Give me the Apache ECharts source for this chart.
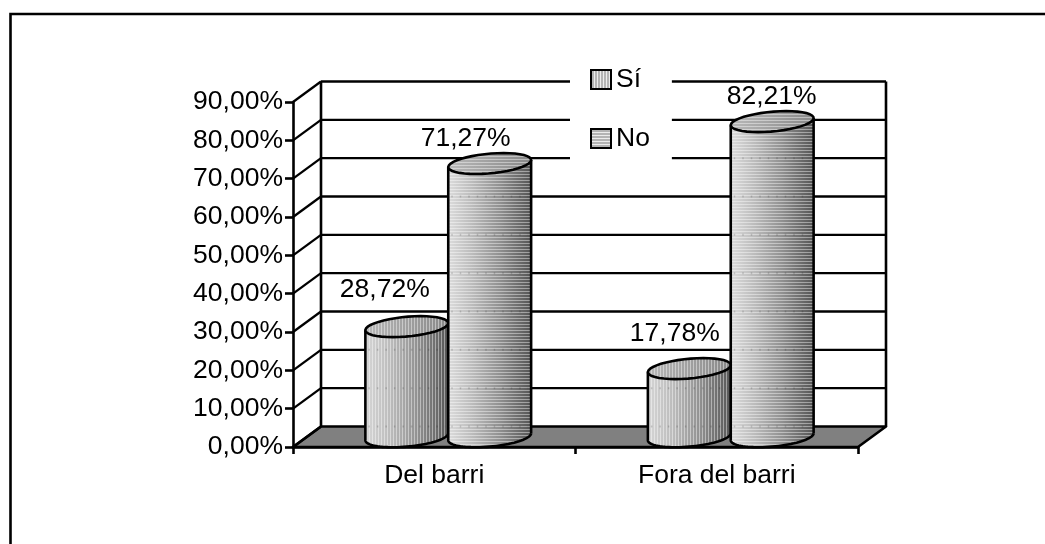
<!DOCTYPE html>
<html><head><meta charset="utf-8">
<style>html,body{margin:0;padding:0;background:#fff}#c{width:1045px;height:544px}</style>
<script src="https://cdn.jsdelivr.net/npm/echarts@6/dist/echarts.min.js"></script>
</head><body><div id="c"></div>
<script>
const categories = ['Del barri', 'Fora del barri'];
const siValues = [28.72, 17.78];
const noValues = [71.27, 82.21];
const yTicks = [0, 10, 20, 30, 40, 50, 60, 70, 80, 90];
const seriesNames = ['Sí', 'No'];
// label nudges relative to each cylinder's top centre (not data)
const siLabelNudge = [[-22, -37], [-14.5, -35]];
const noLabelNudge = [[-24, -25], [-0.5, -24.5]];

const FS = 26.5;
const FAMILY = '"Liberation Sans", Arial, sans-serif';
const FONT = FS + 'px ' + FAMILY;
const DX = 28, DY = -20.5, A = 39, B = 14, C = 10.5, LW = 2.6;

function stripes(vertical, period, alpha) {
  const cv = document.createElement('canvas');
  cv.width = vertical ? period : 1; cv.height = vertical ? 1 : period;
  const g = cv.getContext('2d');
  g.fillStyle = 'rgba(255,255,255,' + alpha + ')';
  g.fillRect(0, 0, 1, 1);
  return { image: cv, repeat: 'repeat' };
}
function swatch(vertical) {
  const cv = document.createElement('canvas');
  cv.width = vertical ? 3 : 1; cv.height = vertical ? 1 : 3;
  const g = cv.getContext('2d');
  g.fillStyle = '#b4b4b4'; g.fillRect(0, 0, 3, 3);
  g.fillStyle = '#ececec'; g.fillRect(0, 0, 1, 1);
  return { image: cv, repeat: 'repeat' };
}
const grad = (stops) => new echarts.graphic.LinearGradient(0, 0, 1, 0,
  stops.map((s) => ({ offset: s[0], color: s[1] })));

const looks = [
  { pat: stripes(true, 3, 0.42), body: grad([[0,'#d6d6d6'],[0.3,'#bcbcbc'],[0.62,'#929292'],[1,'#565656']]),
    top: grad([[0,'#b8b8b8'],[1,'#888888']]) },
  { pat: stripes(false, 3, 0.42), body: grad([[0,'#dcdcdc'],[0.3,'#bababa'],[0.62,'#909090'],[1,'#545454']]),
    top: grad([[0,'#b8b8b8'],[1,'#888888']]) }
];

function ell(cx, cy, t) { return [cx + A * Math.cos(t) + B * Math.sin(t), cy - C * Math.sin(t)]; }
function arc(cx, cy, t0, t1) {
  const pts = [], n = 40;
  for (let i = 0; i <= n; i++) pts.push(ell(cx, cy, t0 + (t1 - t0) * i / n));
  return pts;
}
const T0 = Math.atan2(B, A);
const HALF = Math.hypot(A, B);

function cylinder(which, values, nudges) {
  return function (params, api) {
    const i = api.value(0), v = api.value(1);
    const base = api.coord([i, 0]), head = api.coord([i, v]);
    const cx = base[0] + DX / 2 + (which === 0 ? -HALF : HALF);
    const by = base[1] + DY / 2, ty = head[1] + DY / 2;
    const front = arc(cx, by, T0 + Math.PI, T0 + 2 * Math.PI);
    const backTop = arc(cx, ty, T0 + 2 * Math.PI, T0 + 3 * Math.PI);
    const body = front.concat(backTop);
    const lip = arc(cx, ty, 0, 2 * Math.PI);
    const look = looks[which];
    const kids = [
      { type: 'polygon', shape: { points: body }, style: { fill: look.body, stroke: null } },
      { type: 'polygon', shape: { points: body }, style: { fill: look.pat, stroke: null } }
    ];
    yTicks.forEach((t) => {
      const gy = api.coord([i, t])[1] + DY;
      if (gy > ty + 6 && gy < by + 8) {
        kids.push({ type: 'line', shape: { x1: cx - HALF + 3, y1: gy, x2: cx + HALF - 3, y2: gy },
          style: { stroke: 'rgba(0,0,0,0.16)', lineWidth: 2, lineDash: [1.5, 7] } });
      }
    });
    kids.push({ type: 'polyline', shape: { points: [front[front.length - 1], backTop[0]] }, style: { fill: null, stroke: '#000', lineWidth: LW } });
    kids.push({ type: 'polyline', shape: { points: [backTop[backTop.length - 1], front[0]].concat(front) }, style: { fill: null, stroke: '#000', lineWidth: LW } });
    kids.push({ type: 'polygon', shape: { points: lip }, style: { fill: look.top, stroke: null } });
    kids.push({ type: 'polygon', shape: { points: lip }, style: { fill: look.pat, stroke: '#000', lineWidth: LW } });
    const n = nudges[i];
    kids.push({ type: 'text', z2: 100, style: { text: v.toFixed(2).replace('.', ',') + '%', x: cx + n[0], y: ty + n[1],
      font: FONT, fill: '#000', align: 'center', verticalAlign: 'middle' } });
    return { type: 'group', children: kids };
  };
}

function walls(params, api) {
  const g = params.coordSys, t = api.value(0);
  const y = api.coord([0, t])[1], x0 = g.x, x1 = g.x + g.width;
  const kids = [];
  const ln = { stroke: '#000', lineWidth: LW };
  const thin = { stroke: '#000', lineWidth: 2.3 };
  if (t === 0) {
    kids.push({ type: 'polygon', shape: { points: [[x0, y], [x1, y], [x1 + DX, y + DY], [x0 + DX, y + DY]] },
      style: { fill: '#808080', stroke: '#000', lineWidth: LW, lineJoin: 'round' } });
    kids.push({ type: 'line', shape: { x1: x0 + DX, y1: y + DY, x2: x0 + DX, y2: g.y + DY }, style: ln });
    kids.push({ type: 'line', shape: { x1: x1 + DX, y1: y + DY, x2: x1 + DX, y2: g.y + DY }, style: ln });
    kids.push({ type: 'line', shape: { x1: x0, y1: y, x2: x0 + DX, y2: y + DY }, style: ln });
  } else {
    kids.push({ type: 'line', shape: { x1: x0 + DX, y1: y + DY, x2: x1 + DX, y2: y + DY }, style: thin });
    kids.push({ type: 'line', shape: { x1: x0, y1: y, x2: x0 + DX, y2: y + DY }, style: thin });
  }
  return { type: 'group', children: kids };
}

const chart = echarts.init(document.getElementById('c'), null, { renderer: 'canvas' });
const axisLine = { show: true, lineStyle: { color: '#000', width: LW } };
chart.setOption({
  animation: false,
  backgroundColor: '#fff',
  grid: { left: 293, right: 187, top: 102, bottom: 97, containLabel: false },
  xAxis: {
    type: 'category', data: categories, boundaryGap: true,
    axisLine: axisLine, axisTick: { show: true, length: 7, alignWithLabel: false, interval: 0, lineStyle: { color: '#000', width: LW } },
    axisLabel: { margin: 15, fontSize: FS, fontFamily: FAMILY, color: '#000', interval: 0 },
    splitLine: { show: false }
  },
  yAxis: {
    type: 'value', min: 0, max: 90, interval: 10,
    axisLine: axisLine, axisTick: { show: true, length: 8, lineStyle: { color: '#000', width: LW } },
    axisLabel: { margin: 10, fontSize: FS, fontFamily: FAMILY, color: '#000',
      formatter: (v) => v.toFixed(2).replace('.', ',') + '%' },
    splitLine: { show: false }
  },
  legend: {
    orient: 'vertical', left: 570, top: 57, padding: [9, 22, 20, 20], backgroundColor: '#fff',
    itemWidth: 20, itemHeight: 19, itemGap: 32, icon: 'rect', selectedMode: false,
    textStyle: { fontSize: FS, fontFamily: FAMILY, color: '#000' },
    data: [
      { name: seriesNames[0], icon: 'rect', itemStyle: { color: swatch(true), borderColor: '#000', borderWidth: 2 } },
      { name: seriesNames[1], icon: 'rect', itemStyle: { color: swatch(false), borderColor: '#000', borderWidth: 2 } }
    ]
  },
  graphic: [
    { type: 'polyline', silent: true, z: 0, shape: { points: [[10.5, 560], [10.5, 14], [1060, 14]] }, style: { fill: null, stroke: '#000', lineWidth: 2.6 } }
  ],
  series: [
    { type: 'custom', name: 'walls', coordinateSystem: 'cartesian2d', z: 1, silent: true, renderItem: walls,
      encode: { y: 0 }, data: yTicks.map((t) => [t]) },
    { type: 'custom', name: seriesNames[0], coordinateSystem: 'cartesian2d', z: 2, silent: true, renderItem: cylinder(0, siValues, siLabelNudge),
      encode: { x: 0, y: 1 }, data: siValues.map((v, i) => [i, v]) },
    { type: 'custom', name: seriesNames[1], coordinateSystem: 'cartesian2d', z: 3, silent: true, renderItem: cylinder(1, noValues, noLabelNudge),
      encode: { x: 0, y: 1 }, data: noValues.map((v, i) => [i, v]) }
  ]
});
</script></body></html>
